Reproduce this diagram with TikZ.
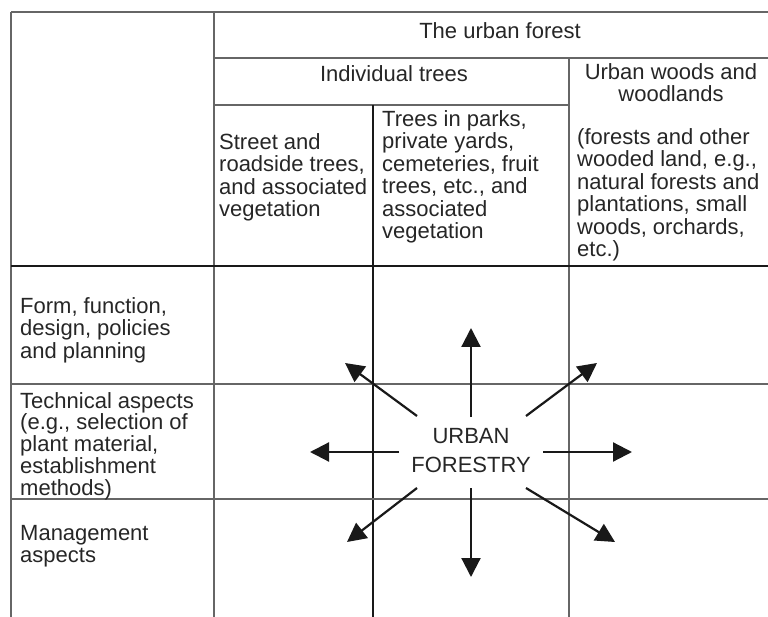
\documentclass[tikz,border=0pt]{standalone}
\usepackage{fontspec}
\setmainfont{Liberation Sans}
\usetikzlibrary{arrows.meta}
\begin{document}
\begin{tikzpicture}[x=1pt,y=-1pt,
  grid/.style={draw=black!60, line width=2pt},
  thingrid/.style={draw=black!90, line width=1.3pt},
  txt/.style={inner sep=0pt, anchor=north west, align=left, text=black!85,
    font=\fontsize{22}{22.5}\selectfont},
  ctxt/.style={txt, anchor=north, align=center},
  arr/.style={-{Triangle[length=19pt,width=19pt]}, line width=2.2pt, draw=black!90}]
\useasboundingbox (0,0) rectangle (768,617);
% table lines
\draw[grid] (11,12) -- (768,12);
\draw[grid] (11,12) -- (11,617);
\draw[grid] (214,12) -- (214,617);
\draw[grid] (214,58) -- (768,58);
\draw[grid] (214,105) -- (569,105);
\draw[thingrid] (373,105) -- (373,617);
\draw[grid] (569,58) -- (569,617);
\draw[thingrid] (11,266) -- (768,266);
\draw[grid] (11,384) -- (768,384);
\draw[grid] (11,499) -- (768,499);
% header texts
\node[ctxt] (uforest) at (500,22) {The urban forest};
\node[ctxt] (indiv) at (394,65) {Individual trees};
\node[ctxt] (woods) at (671,63) {Urban woods and\\woodlands};
\node[txt] (street) at (219,133) {Street and\\roadside trees,\\and associated\\vegetation};
\node[txt] (parks) at (382,110) {Trees in parks,\\private yards,\\cemeteries, fruit\\trees, etc., and\\associated\\vegetation};
\node[txt] (forests) at (577,128) {(forests and other\\wooded land, e.g.,\\natural forests and\\plantations, small\\woods, orchards,\\etc.)};
% row texts
\node[txt] (form) at (20,297) {Form, function,\\design, policies\\and planning};
\node[txt, font=\fontsize{22}{21.8}\selectfont] (tech) at (20,392) {Technical aspects\\(e.g., selection of\\plant material,\\establishment\\methods)};
\node[txt] (mgmt) at (20,525) {Management\\aspects};
% centre
\node[ctxt, font=\fontsize{22}{29}\selectfont] (uf) at (471,428) {URBAN\\FORESTRY};
% arrow coordinates
\coordinate (sN) at (471,417); \coordinate (tN) at (471,328);
\coordinate (sS) at (471,488); \coordinate (tS) at (471,577);
\coordinate (sE) at (543,452); \coordinate (tE) at (632,452);
\coordinate (sW) at (399,452); \coordinate (tW) at (310,452);
\coordinate (sNE) at (526,416); \coordinate (tNE) at (597,363);
\coordinate (sSE) at (526,488); \coordinate (tSE) at (615,542);
\coordinate (sNW) at (417,416); \coordinate (tNW) at (345,363);
\coordinate (sSW) at (417,488); \coordinate (tSW) at (347,542);
\foreach \d in {N,S,E,W,NE,SE,NW,SW}{\draw[arr] (s\d) -- (t\d);}
\end{tikzpicture}
\end{document}
